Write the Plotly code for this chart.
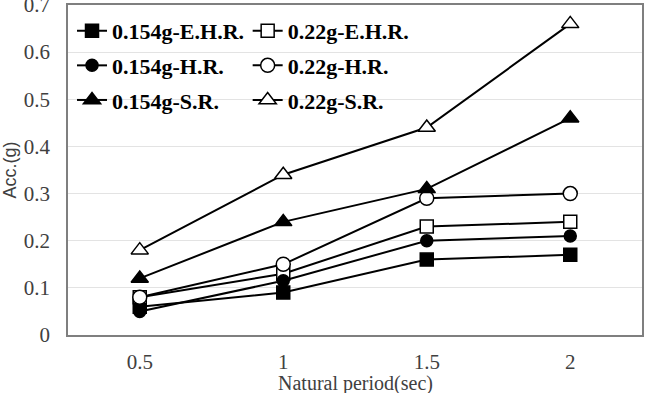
import plotly.graph_objects as go

periods = [0.5, 1, 1.5, 2]
names = ["0.154g-E.H.R.", "0.22g-E.H.R.", "0.154g-H.R.", "0.22g-H.R.", "0.154g-S.R.", "0.22g-S.R."]
e154 = [0.06, 0.09, 0.16, 0.17]
e22 = [0.08, 0.13, 0.23, 0.24]
h154 = [0.05, 0.115, 0.20, 0.21]
h22 = [0.08, 0.15, 0.29, 0.30]
s154 = [0.12, 0.24, 0.31, 0.46]
s22 = [0.18, 0.34, 0.44, 0.66]
series = [e154, e22, h154, h22, s154, s22]
y_ticks = [0, 0.1, 0.2, 0.3, 0.4, 0.5, 0.6, 0.7]
x_ticks = [0.5, 1, 1.5, 2]
x_title = "Natural period(sec)"
y_title = "Acc.(g)"

styles = [
    ("square", "black", 13),
    ("square", "white", 13),
    ("circle", "black", 12),
    ("circle", "white", 14),
    ("triangle-up", "black", 15),
    ("triangle-up", "white", 15),
]
legend_ids = ["legend", "legend2", "legend", "legend2", "legend", "legend2"]

fig = go.Figure()
for i, (nm, vals) in enumerate(zip(names, series)):
    sym, fill, sz = styles[i]
    fig.add_trace(go.Scatter(
        x=periods, y=vals, name=nm, mode="lines+markers",
        line=dict(color="black", width=2),
        marker=dict(symbol=sym, color=fill, size=sz, line=dict(color="black", width=1.5)),
        legend=legend_ids[i], legendgroup=nm,
    ))

legend_font = dict(family="Liberation Serif", size=22, color="black", weight="bold")
tick_font = dict(family="Liberation Serif", size=21, color="#404040")
fig.update_layout(
    width=653, height=393,
    margin=dict(l=64, r=11, t=5, b=58),
    paper_bgcolor="white", plot_bgcolor="white",
    showlegend=True,
    legend=dict(x=0.007, y=0.985, xanchor="left", yanchor="top", font=legend_font,
                bgcolor="rgba(0,0,0,0)", tracegroupgap=3, itemwidth=30),
    legend2=dict(x=0.313, y=0.985, xanchor="left", yanchor="top", font=legend_font,
                 bgcolor="rgba(0,0,0,0)", tracegroupgap=3, itemwidth=30),
    xaxis=dict(range=[0.25, 2.25], tickvals=x_ticks, ticktext=[str(v) for v in x_ticks],
               showgrid=False, zeroline=False, showline=True, linecolor="#7f7f7f",
               linewidth=1.5, mirror=True, ticks="", ticklabelstandoff=7, automargin=False,
               tickfont=tick_font),
    yaxis=dict(range=[0, 0.7], tickvals=y_ticks, ticktext=[("%g" % v) for v in y_ticks],
               showgrid=True, gridcolor="#e3e3e3", gridwidth=1, zeroline=False,
               showline=True, linecolor="#7f7f7f", linewidth=1.5, mirror=True, ticks="",
               ticklabelstandoff=12, ticklabeloverflow="allow", automargin="left",
               tickfont=tick_font,
               title=dict(text=y_title, standoff=6,
                          font=dict(family="Liberation Sans", size=18, color="#404040"))),
    annotations=[dict(text=x_title, xref="paper", yref="paper", x=0.5, y=0,
                      xanchor="center", yanchor="top", yshift=-35, showarrow=False,
                      font=dict(family="Liberation Serif", size=20, color="#404040"))],
)
fig.write_html("out.html")
